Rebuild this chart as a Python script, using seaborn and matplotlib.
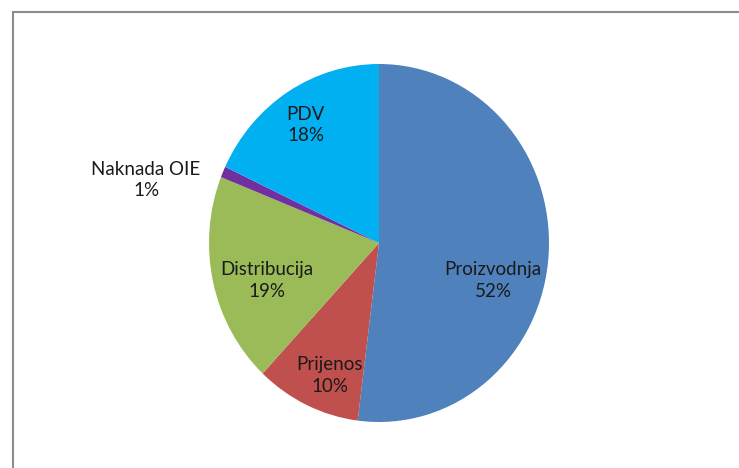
import matplotlib
matplotlib.use("Agg")
import matplotlib.pyplot as plt
import seaborn as sns
from matplotlib.patches import Rectangle

sns.set_theme(style="white")
plt.rcParams['font.family'] = ['Lato', 'DejaVu Sans']

categories = ["Proizvodnja", "Prijenos", "Distribucija", "Naknada OIE", "PDV"]
values = [52, 10, 19, 1, 18]
colors = ["#4F81BD", "#C0504D", "#9BBB59", "#7030A0", "#00B0F0"]
# label positions in pie units (layout)
label_pos = [(0.67, -0.21), (-0.29, -0.74), (-0.66, -0.21), (-1.37, 0.35), (-0.43, 0.66)]

W, H = 739, 468
fig = plt.figure(figsize=(W / 100, H / 100), dpi=100)
fig.patch.set_facecolor("white")

# outer frame
fig.patches.append(Rectangle((13 / W, -0.1), 1.2, (H - 12) / H + 0.1, transform=fig.transFigure,
                             fill=False, edgecolor="#8c8c8c", linewidth=1.5))

cx, cy, rx, ry = 379, 243, 170, 179
ax = fig.add_axes([(cx - rx) / W, (H - cy - ry) / H, 2 * rx / W, 2 * ry / H])
ax.pie(values, colors=colors, startangle=90, counterclock=False,
       wedgeprops=dict(linewidth=0))
ax.set_aspect("auto")
ax.set_xlim(-1, 1)
ax.set_ylim(-1, 1)
ax.axis("off")

for c, v, (x, y) in zip(categories, values, label_pos):
    ax.text(x, y, f"{c}\n{v}%", ha="center", va="center", fontsize=13.5,
            color="#1a1a1a", linespacing=1.3, clip_on=False)

fig.savefig("out.png", dpi=100, facecolor="white")
